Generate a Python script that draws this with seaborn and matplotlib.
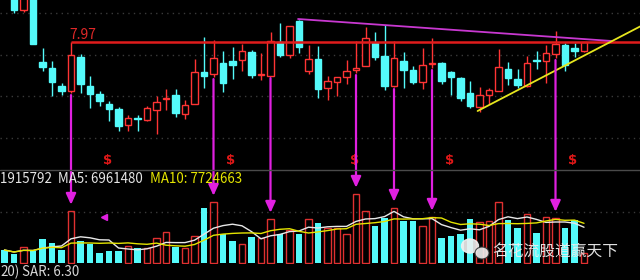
import matplotlib
matplotlib.use("Agg")
import matplotlib.pyplot as plt
import matplotlib.transforms as mtransforms
from matplotlib.patches import Ellipse
from matplotlib.lines import Line2D
import numpy as np
import pandas as pd
import seaborn as sns

# ---------------- data ----------------
days = list(range(-1, 61))
open_ = [8.50, 8.45, 8.29, 8.44, 7.77, 7.71, 7.53, 7.48, 7.82, 7.53, 7.45, 7.35, 7.30, 7.14, 7.21, 7.19,
         7.29, 7.40, 7.44, 7.25, 7.35, 7.67, 7.65, 7.76, 7.78, 7.79, 7.87, 7.64, 7.63, 7.97, 7.84, 8.18,
         7.68, 7.80, 7.51, 7.57, 7.62, 7.69, 7.73, 7.96, 7.83, 7.53, 7.78, 7.69, 7.57, 7.75, 7.76, 7.67,
         7.61, 7.46, 7.32, 7.44, 7.48, 7.70, 7.60, 7.53, 7.79, 7.78, 7.85, 7.94, 7.91, 7.88]
close = [8.46, 8.29, 8.42, 7.95, 7.72, 7.57, 7.48, 7.84, 7.55, 7.45, 7.38, 7.30, 7.13, 7.21, 7.20, 7.31,
         7.37, 7.41, 7.26, 7.34, 7.67, 7.63, 7.81, 7.56, 7.74, 7.88, 7.64, 7.65, 7.98, 7.84, 8.13, 7.92,
         7.80, 7.50, 7.58, 7.62, 7.68, 7.71, 8.01, 7.82, 7.53, 7.81, 7.69, 7.57, 7.74, 7.76, 7.58, 7.62,
         7.41, 7.33, 7.44, 7.49, 7.72, 7.61, 7.54, 7.76, 7.78, 7.86, 7.95, 7.74, 7.88, 7.97]
high = [8.53, 8.48, 8.45, 8.47, 7.91, 7.78, 7.56, 7.97, 7.85, 7.63, 7.48, 7.38, 7.32, 7.24, 7.24, 7.33,
        7.43, 7.50, 7.50, 7.39, 7.80, 8.02, 7.99, 7.88, 7.92, 7.95, 7.89, 7.86, 8.07, 8.16, 8.13, 8.19,
        7.94, 7.93, 7.63, 7.62, 7.79, 7.98, 8.12, 8.07, 8.14, 7.98, 7.87, 7.73, 7.91, 8.01, 7.77, 7.68,
        7.62, 7.58, 7.52, 7.51, 7.90, 7.77, 7.70, 7.83, 7.88, 7.94, 8.08, 7.96, 7.96, 7.97]
low = [8.44, 8.26, 8.27, 7.95, 7.68, 7.43, 7.44, 7.46, 7.46, 7.31, 7.33, 7.18, 7.08, 7.08, 7.08, 7.18,
       7.05, 7.29, 7.22, 7.20, 7.35, 7.51, 7.62, 7.47, 7.60, 7.68, 7.61, 7.59, 7.63, 7.82, 7.81, 7.86,
       7.65, 7.41, 7.39, 7.43, 7.55, 7.66, 7.73, 7.79, 7.49, 7.52, 7.51, 7.55, 7.50, 7.71, 7.55, 7.44,
       7.38, 7.31, 7.27, 7.35, 7.48, 7.54, 7.51, 7.52, 7.70, 7.56, 7.81, 7.68, 7.82, 7.87]
volume = [2522000, 1746000, 3104000, 2328000, 4656000, 3880000, 2522000, 10088000, 4268000, 3686000,
          1940000, 2328000, 2328000, 3298000, 2910000, 2910000, 4850000, 6014000, 3104000, 2910000,
          5238000, 10670000, 11834000, 5626000, 4268000, 3686000, 5044000, 4850000, 8536000, 5626000,
          6402000, 5626000, 8536000, 7760000, 6790000, 6790000, 5626000, 13386000, 10088000, 7178000,
          8730000, 10670000, 8148000, 8148000, 7178000, 8924000, 4850000, 5238000, 5626000, 8536000,
          7954000, 8148000, 11834000, 8342000, 6790000, 9506000, 5820000, 8924000, 8730000, 6790000,
          8342000, 1915792]

arrow_days = [6, 21, 27, 36, 40, 44, 57]
signal_days = [10, 23, 36, 46, 59]
resistance_price = 7.97
resistance_start = 6
upper_trend_days = [29.9, 62.9]
upper_trend_prices = [8.20, 7.98]
lower_trend_days = [48.8, 66.0]
lower_trend_prices = [7.28, 8.13]

vol_text = "1915792  MA5: 6961480"
ma10_text = "MA10: 7724663"
para_text = "20)"
sar_text = "SAR: 6.30"
watermark = "名花流股道赢天下"

# ---------------- frame ----------------
df = pd.DataFrame(dict(day=days, open=open_, high=high, low=low, close=close, volume=volume))
df["up"] = df["close"] >= df["open"]
df["ma5"] = df["volume"].rolling(5, min_periods=1).mean()
df["ma10"] = df["volume"].rolling(10, min_periods=1).mean()

sns.set_theme(style="dark", rc={"axes.facecolor": "black", "figure.facecolor": "black"})
plt.rcParams["font.family"] = ["Noto Sans CJK SC", "DejaVu Sans"]

RED = "#ff3434"
VRED = "#e03030"
CYAN = "#54fafa"
MAG = "#e020e0"
GRID = "#3a3a3a"

W, H = 640, 280
fig = plt.figure(figsize=(W / 100, H / 100), dpi=100, facecolor="black")


def fx(x):
    return x / W


def fy(y):
    return 1 - y / H


ax_p = fig.add_axes([0, fy(170), 1, 170 / H])
ax_v = fig.add_axes([0, fy(264), 1, 93 / H])
for ax in (ax_p, ax_v):
    ax.set_facecolor("black")

xlim = (-14 / 9.5, 626 / 9.5)

# ---------------- price panel ----------------
for g in [8.26, 7.845, 7.43, 7.015]:
    ax_p.axhline(g, color=GRID, lw=1, ls=(0, (1, 3)), zorder=0)

colors = np.where(df["up"], RED, CYAN)
ax_p.vlines(df["day"], df["low"], df["high"], colors=colors, lw=1, zorder=2)
body_lo = np.minimum(df["open"], df["close"])
body_h = np.maximum(np.abs(df["close"] - df["open"]), 0.004)
ax_p.bar(df["day"], body_h, bottom=body_lo, width=0.68,
         color=np.where(df["up"], "black", CYAN), edgecolor=colors, linewidth=1, zorder=3)

ax_p.hlines(resistance_price, resistance_start, xlim[1], color="#e01c1c", lw=1.8, zorder=4)
ax_p.text(resistance_start - 0.15, resistance_price, f"{resistance_price:.2f}", color="#e02828",
          fontsize=10, ha="left", va="bottom")
sns.lineplot(x=upper_trend_days, y=upper_trend_prices, color="#c838d0", lw=1.3, ax=ax_p, zorder=5)
sns.lineplot(x=lower_trend_days, y=lower_trend_prices, color="#e6e61e", lw=1.3, ax=ax_p, zorder=5)

sig_tr = mtransforms.blended_transform_factory(ax_p.transData, ax_p.transAxes)
for d in signal_days:
    ax_p.text(d - 0.2, 0.055, "$", transform=sig_tr, color="#e01818", fontsize=9.5,
              fontweight="bold", ha="center", va="center", family=["DejaVu Sans"])

ax_p.set_xlim(*xlim)
ax_p.set_ylim(8.39 - 1.70, 8.39)

# ---------------- volume panel ----------------
ax_v.axhline(9894000, color=GRID, lw=1, ls=(0, (1, 3)), zorder=0)
sns.barplot(data=df[~df["up"]], x="day", y="volume", native_scale=True, color=CYAN,
            saturation=1, width=0.7, errorbar=None, linewidth=0, ax=ax_v)
sns.barplot(data=df[df["up"]], x="day", y="volume", native_scale=True, color=VRED,
            saturation=1, width=0.7, errorbar=None, fill=False, linewidth=1, ax=ax_v)
sns.lineplot(data=df, x="day", y="ma5", color="#e8e8e8", lw=1, ax=ax_v)
sns.lineplot(data=df, x="day", y="ma10", color="#e4e400", lw=1, ax=ax_v)
ax_v.set_xlim(*xlim)
ax_v.set_ylim(-194000, 92 * 194000)

for ax in (ax_p, ax_v):
    ax.set_xticks([])
    ax.set_yticks([])
    ax.set_xlabel("")
    ax.set_ylabel("")
    for s in ax.spines.values():
        s.set_visible(False)
    ax.grid(False)

# arrows from candle lows to volume bars
vidx = df.set_index("day")
for d in arrow_days:
    ax_v.annotate("", xy=(d, vidx.loc[d, "volume"]), xycoords="data",
                  xytext=(d, vidx.loc[d, "low"]), textcoords=ax_p.transData,
                  arrowprops=dict(arrowstyle="-|>,head_length=0.55,head_width=0.25",
                                  color=MAG, lw=1.6, shrinkA=1.5, shrinkB=4.5),
                  annotation_clip=False)

# separator + texts
fig.add_artist(Line2D([0, 1], [fy(170), fy(170)], color="#4a4a4a", lw=1))
fig.text(fx(0), fy(179), vol_text, color="#e6e6e6", fontsize=9.6, ha="left", va="center")
fig.text(fx(150), fy(179), ma10_text, color="#e6e600", fontsize=9.6, ha="left", va="center")
fig.text(fx(0), fy(272), para_text, color="#d8d8d8", fontsize=9.6, ha="left", va="center")
fig.text(fx(22), fy(272), sar_text, color="#d8d8d8", fontsize=9.6, ha="left", va="center")
fig.add_artist(Line2D([fx(104)], [fy(217)], marker="<", ms=5, color=MAG, lw=0))

# watermark
ident = mtransforms.IdentityTransform()
fig.add_artist(Ellipse((470, H - 246), 17, 14, color="#f0f0f0", alpha=0.9, transform=ident))
fig.add_artist(Ellipse((482, H - 253), 14, 12, color="#f0f0f0", alpha=0.9, ec="#303030", lw=0.8,
                       transform=ident))
fig.text(fx(492), fy(251), watermark, color="#ececec", fontsize=11.3, ha="left", va="center", alpha=0.95)

fig.savefig("out.png", dpi=100, facecolor="black")
